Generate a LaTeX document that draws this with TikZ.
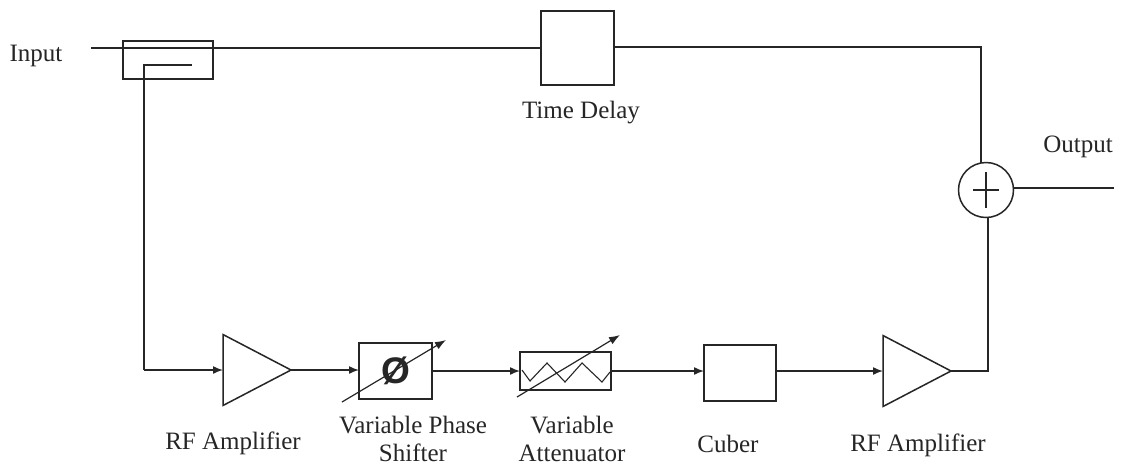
\documentclass[tikz,border=0pt]{standalone}
\usepackage{fontspec}
\setmainfont{Liberation Serif}
\newfontfamily\phifont{Liberation Sans}
\usepackage{tikz}
\usetikzlibrary{positioning}
\usetikzlibrary{calc}
\usetikzlibrary{shapes.geometric}
\usetikzlibrary{arrows.meta}

\definecolor{ink}{HTML}{262626}

\begin{document}
\begin{tikzpicture}[x=1pt, y=-1pt, line width=1.5pt, color=ink,
  every node/.style={inner sep=0pt, outer sep=0pt},
  lbl/.style={font=\fontsize{25}{28}\selectfont, align=center, text=ink},
  blockbox/.style={draw, rectangle, minimum width=#1},
  amp/.style={draw, isosceles triangle, isosceles triangle stretches, shape border rotate=0, anchor=lower side, minimum width=71pt, minimum height=68pt},
  flow/.style={-{Latex[length=10pt, width=8pt]}},
  tune/.style={-{Latex[length=11pt, width=8pt]}, line width=1.2pt}]
        \useasboundingbox (0,0) rectangle (1124,467);
        \fill[white] (0,0) rectangle (1124,467);

        % Draw the blocks
        \node[blockbox=90pt, minimum height=38pt] (coupler) at (168,60) {};
        \node[blockbox=73pt, minimum height=74pt] (delay) at (577.5,48) {};
        \node[amp] (ampA) at (223,370) {};
        \node[blockbox=73pt, minimum height=56pt] (shifter) at (395.5,371) {};
        \node[blockbox=91pt, minimum height=38pt] (atten) at (565.5,371) {};
        \node[blockbox=72pt, minimum height=56pt] (cuber) at (740,373) {};
        \node[amp] (ampB) at (883,371) {};
        \node[draw, circle, minimum size=55pt] (adder) at (986,190) {};

        % Draw the labels
        \node[lbl] (inputlbl) at (36,56) {Input};
        \node[lbl] (delaylbl) at (581,113) {Time Delay};
        \node[lbl] (outputlbl) at (1078,147) {Output};
        \node[lbl] (ampAlbl) at (233,443) {RF Amplifier};
        \node[lbl] (shifterlbl) at (413,439) {Variable Phase\\Shifter};
        \node[lbl] (attenlbl) at (572,439) {Variable\\Attenuator};
        \node[lbl] (cuberlbl) at (728,444) {Cuber};
        \node[lbl] (ampBlbl) at (918,445) {RF Amplifier};
        \node[font=\phifont\bfseries\fontsize{37}{37}\selectfont, text=ink] (phi) at (396,371) {Ø};

        % Free ends and corners
        \coordinate (in) at (91,48);
        \coordinate (tapend) at (192,65);
        \coordinate (tap) at (144,65);
        \coordinate (turn) at (144,370);
        \coordinate (corner) at (981,47);
        \coordinate (joint) at (988,371);
        \coordinate (out) at (1114,188);

        % Main path
        \draw (in) -- (delay.west |- in);
        \draw (delay.east |- corner) -- (corner) -- (corner |- adder.north);
        \draw (adder.east |- out) -- (out);

        % Coupled path
        \draw (tapend) -- (tap) -- (turn);
        \draw[flow] (turn) -- (ampA.lower side);
        \draw[flow] (ampA.apex) -- (shifter.west |- ampA.apex);
        \draw[flow] (shifter.east) -- (atten.west);
        \draw[flow] (atten.east) -- (cuber.west |- atten.east);
        \draw[flow] (cuber.east |- ampB.lower side) -- (ampB.lower side);
        \draw (ampB.apex) -- (joint) -- (joint |- adder.south);

        % Adder cross
        \draw[line width=1.1pt] (973,190) -- (999,190) (986,172) -- (986,208);

        % Attenuator zigzag
        \draw[line width=1.1pt] (522,370) -- (530,381) -- (547,363) -- (565,382) -- (582,363) -- (602,382) -- (610,372);

        % Tuning arrows
        \coordinate (shifterA) at (342,402);
        \coordinate (shifterB) at (446,340);
        \coordinate (attenA) at (517,397);
        \coordinate (attenB) at (620,335);
        \draw[tune] (shifterA) -- (shifterB);
        \draw[tune] (attenA) -- (attenB);
      \end{tikzpicture}
\end{document}
